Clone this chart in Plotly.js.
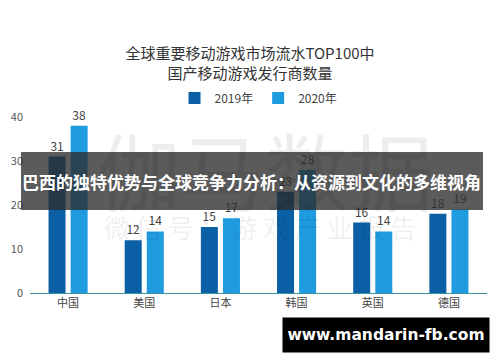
<!DOCTYPE html>
<html><head><meta charset="utf-8">
<script src="https://cdn.plot.ly/plotly-3.0.1.min.js"></script>
<style>html,body{margin:0;padding:0;background:#fff}#c{width:500px;height:362px}</style>
</head><body><div id="c"></div>
<script>
const categories = ['中国','美国','日本','韩国','英国','德国'];
const values2019 = [31,12,15,23,16,18];
const values2020 = [38,14,17,28,14,19];
const seriesNames = ['2019年','2020年'];
const titleText = '全球重要移动游戏市场流水TOP100中<br>国产移动游戏发行商数量';
const bannerText = '巴西的独特优势与全球竞争力分析：从资源到文化的多维视角';
const urlText = 'www.mandarin-fb.com';

const font = '"Noto Sans CJK SC", "Noto Sans", sans-serif';
const traces = [
  {type:'bar', name:seriesNames[0], x:categories, y:values2019, marker:{color:'#0b5fa5'},
   text:values2019.map(String), textposition:'outside', textfont:{size:12,color:'#444',family:font}, cliponaxis:false},
  {type:'bar', name:seriesNames[1], x:categories, y:values2020, marker:{color:'#1f9be0'},
   text:values2020.map(String), textposition:'outside', textfont:{size:12,color:'#444',family:font}, cliponaxis:false}
];
const px = v => (v-30)/457, py = v => (293-v)/176;
const layout = {
  width:500, height:362, margin:{l:30,r:13,t:117,b:69},
  paper_bgcolor:'#fff', plot_bgcolor:'#fff',
  font:{family:font, color:'#444'},
  title:{text:titleText, font:{size:15,color:'#333',family:font}, x:0.5, xanchor:'center', y:1-59/362, yanchor:'middle'},
  showlegend:true,
  legend:{orientation:'h', x:0.5, xanchor:'center', y:py(98), yanchor:'middle', xref:'paper', yref:'paper',
    font:{size:12,color:'#444'}, itemwidth:30, traceorder:'normal'},
  bargap:0.42, bargroupgap:0.23,
  xaxis:{showline:true, linecolor:'#3a8fa0', linewidth:1, ticks:'', tickfont:{size:11,color:'#444'}, showgrid:false},
  yaxis:{range:[0,40], dtick:10, showgrid:false, zeroline:false, showline:false, tickfont:{size:11,color:'#555'}, ticklabelstandoff:6},
  shapes:[
    {type:'rect', xref:'paper', yref:'paper', x0:px(21), x1:px(483), y0:py(210), y1:py(152), fillcolor:'rgba(45,45,45,0.78)', line:{width:0}, layer:'above'}
  ],
  annotations:[
    {text:'伽马数据', xref:'paper', yref:'paper', x:px(265), y:py(168), yanchor:'middle', showarrow:false, font:{size:84,color:'rgba(0,0,0,0.07)',family:font}},
    {text:'微 信 号 ： 游 戏 产 业 报 告', xref:'paper', yref:'paper', x:px(260), y:py(226), showarrow:false, font:{size:26,color:'rgba(0,0,0,0.07)',family:font}},
    {text:'<b>'+bannerText+'</b>', xref:'paper', yref:'paper', x:px(251), y:py(181), showarrow:false, font:{size:17,color:'#fff',family:font}},
    {text:'<b>'+urlText+'</b>', xref:'paper', yref:'paper', x:px(386), y:py(335), xanchor:'center', yanchor:'middle', showarrow:false,
     bgcolor:'#000', width:204, height:32, borderpad:1, font:{size:15.5,color:'#fff',family:'"DejaVu Sans", sans-serif'}}
  ]
};
Plotly.newPlot('c', traces, layout, {displayModeBar:false, staticPlot:true});
</script></body></html>
